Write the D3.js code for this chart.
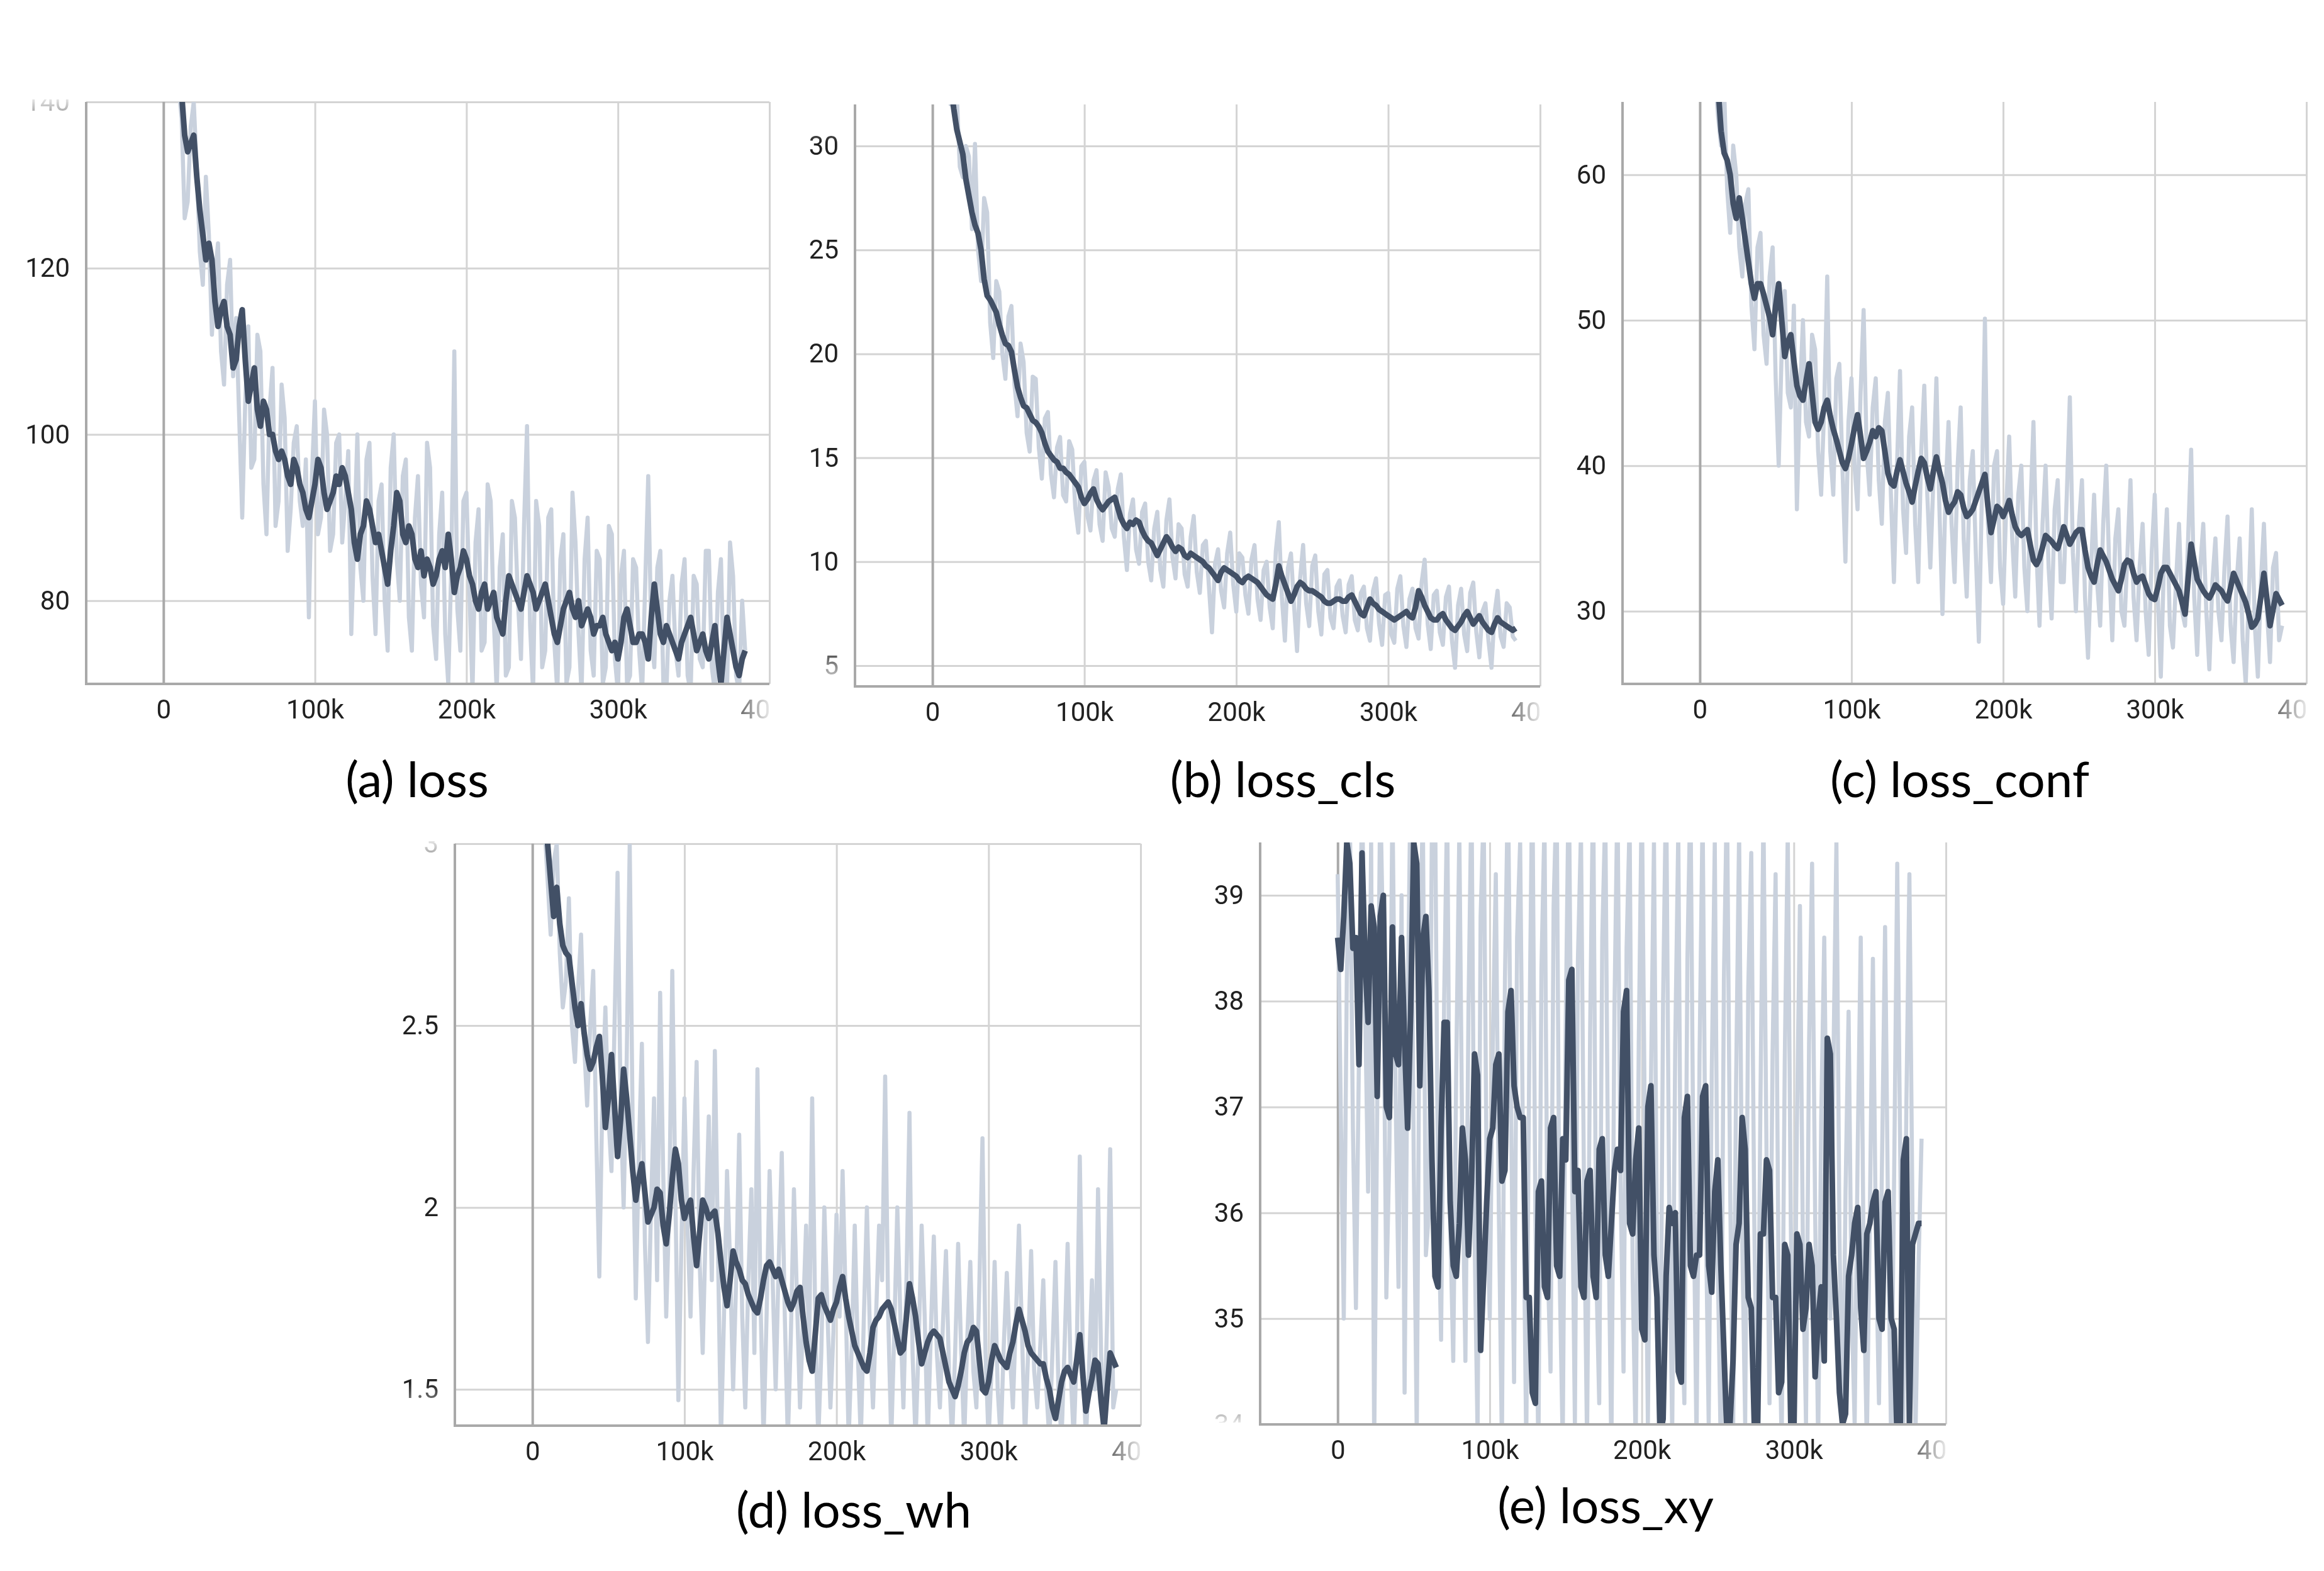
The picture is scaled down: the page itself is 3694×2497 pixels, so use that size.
<!DOCTYPE html>
<html><head><meta charset="utf-8">
<script src="https://cdn.jsdelivr.net/npm/d3@7"></script>
<style>
html,body{margin:0;padding:0;background:#fff;}
svg{display:block;}
</style></head><body>
<svg id="chart" width="3694" height="2497"></svg>
<script>
// training step (thousands)
const steps = [0,2,4,6,8,10,12,14,16,18,
20,22,24,26,28,30,32,34,36,38,
40,42,44,46,48,50,52,54,56,58,
60,62,64,66,68,70,72,74,76,78,
80,82,84,86,88,90,92,94,96,98,
100,102,104,106,108,110,112,114,116,118,
120,122,124,126,128,130,132,134,136,138,
140,142,144,146,148,150,152,154,156,158,
160,162,164,166,168,170,172,174,176,178,
180,182,184,186,188,190,192,194,196,198,
200,202,204,206,208,210,212,214,216,218,
220,222,224,226,228,230,232,234,236,238,
240,242,244,246,248,250,252,254,256,258,
260,262,264,266,268,270,272,274,276,278,
280,282,284,286,288,290,292,294,296,298,
300,302,304,306,308,310,312,314,316,318,
320,322,324,326,328,330,332,334,336,338,
340,342,344,346,348,350,352,354,356,358,
360,362,364,366,368,370,372,374,376,378,
380,382,384];

// (a) loss
const lossSmooth = [175,168,160,154,148,144,141,136,134,135,
136,131,127,124,121,123,121,116,113,115,
116,113,112,108,109,113,115,109,104,106,
108,103,101,104,103,100,100,98,97,98,
97,95,94,97,96,94,93,91,90,92,
94,97,96,93,91,92,93,95,94,96,
95,93,91,87,85,88,89,92,91,89,
87,88,86,84,82,86,89,93,92,88,
87,89,88,85,84,86,83,85,84,82,
83,85,86,84,88,85,81,83,84,86,
85,83,82,80,79,81,82,79,80,81,
78,77,76,80,83,82,81,80,79,81,
83,82,81,79,80,81,82,80,78,76,
75,77,79,80,81,79,78,80,77,78,
79,78,76,77,77,78,76,75,74,75,
73,75,78,79,77,75,75,76,76,75,
73,78,82,79,76,75,77,76,75,74,
73,75,76,77,78,76,74,75,76,74,
73,75,77,73,70,74,78,76,74,72,
71,73,74];
const lossRaw = [180,172,165,150,146,142,138,126,128,137,
140,132,122,118,131,124,112,119,123,110,
106,118,121,107,114,102,90,104,113,96,
97,112,110,94,88,103,108,89,92,106,
102,86,91,99,101,92,89,97,78,95,
104,88,90,103,100,86,88,99,100,87,
92,98,76,88,100,84,80,97,99,83,
76,92,94,80,74,96,100,85,80,95,
97,78,74,90,95,82,78,99,96,77,
73,88,93,76,70,84,110,79,74,92,
93,81,69,87,91,74,75,94,92,78,
69,84,88,71,72,92,90,80,73,89,
101,77,69,92,89,72,74,90,91,75,
69,85,88,70,72,93,87,76,69,85,
90,74,71,86,85,70,72,89,88,73,
69,83,86,70,71,85,84,74,69,82,
95,76,72,84,86,70,69,80,83,74,
71,82,85,71,69,83,82,73,72,86,
86,72,69,81,85,70,69,87,83,71,
69,80,74];

// (b) loss_cls
const clsSmooth = [45,42,40,38,36,34.5,33,31.8,30.8,30.2,
29.6,28.4,27.6,26.8,26.2,25.8,25,23.6,22.8,22.6,
22.3,22.0,21.4,20.9,20.5,20.4,20.1,19.2,18.4,17.9,
17.5,17.4,17.1,16.8,16.7,16.5,16.2,15.7,15.3,15.1,
14.9,14.8,14.5,14.5,14.3,14.2,14.0,13.8,13.6,13.1,
12.8,13.0,13.3,13.5,13.0,12.7,12.5,12.7,12.9,13.0,
13.1,12.6,12.1,11.8,11.6,11.9,11.8,12.0,11.9,11.5,
11.2,11.0,10.9,10.6,10.3,10.6,10.9,11.2,11.0,10.7,
10.5,10.7,10.6,10.3,10.2,10.4,10.3,10.2,10.1,10.0,
9.8,9.7,9.5,9.3,9.1,9.5,9.7,9.6,9.5,9.4,
9.3,9.1,9.0,9.2,9.3,9.2,9.1,9.0,8.8,8.6,
8.4,8.3,8.2,8.9,9.8,9.3,8.9,8.5,8.1,8.4,
8.8,9.0,8.9,8.7,8.6,8.6,8.5,8.4,8.3,8.1,
8.0,8.0,8.1,8.2,8.2,8.1,8.1,8.3,8.4,8.1,
7.8,7.5,7.4,7.8,8.2,8.0,7.9,7.7,7.6,7.5,
7.4,7.3,7.2,7.3,7.4,7.5,7.6,7.4,7.3,7.8,
8.6,8.3,7.9,7.6,7.3,7.2,7.2,7.4,7.5,7.2,
7.0,6.8,6.7,6.9,7.1,7.4,7.6,7.3,7.0,7.2,
7.4,7.1,6.9,6.7,6.6,7.0,7.3,7.1,7.0,6.9,
6.8,6.7,6.8];
const clsRaw = [46,43,41,38,37,34,32,34,32.5,29,
28.5,30,29.5,26,30.1,25,23.5,27.5,26.8,21.5,
19.8,23.5,23.0,20,18.8,21.8,22.3,18.5,17.0,20.5,
19.6,16.2,15.3,18.9,18.8,15.5,14.0,16.9,17.2,14.2,
13.1,15.5,16.0,13.2,12.9,15.8,15.4,12.6,11.4,14.6,
14.8,12.2,11.5,13.9,14.4,11.8,11.0,14.3,13.6,11.6,
11.2,13.5,14.2,11.2,9.6,12.3,13.0,10.6,9.9,12.4,
12.8,10.0,9.1,11.6,12.4,9.6,8.8,12.0,13.0,10.2,
9.2,11.8,11.6,9.4,8.8,11.2,12.2,9.5,8.5,10.8,
11.0,8.8,6.6,9.9,10.6,8.6,7.8,10.4,11.4,8.9,
7.6,10.4,10.2,8.4,7.5,10.1,10.8,8.2,7.2,9.6,
10.0,7.8,6.8,10.5,11.9,8.3,6.2,9.7,10.4,7.9,
5.7,9.2,10.8,8.0,6.9,9.8,10.3,7.6,6.5,9.4,
9.6,7.3,6.8,8.8,9.1,7.4,6.6,8.9,9.3,7.2,
6.7,8.5,8.8,6.8,6.2,8.6,9.2,7.0,6.0,8.4,
8.5,6.5,6.1,8.7,9.3,6.9,5.9,8.2,8.7,6.8,
6.3,9.0,10.1,7.0,5.8,8.4,8.6,6.6,6.0,8.3,
8.8,6.2,4.9,7.9,8.7,6.5,5.7,8.5,9.0,6.6,
5.4,7.6,8.0,6.2,4.9,7.5,8.6,6.4,5.9,8.0,
7.8,6.4,6.2];

// (c) loss_conf
const confSmooth = [80,77,74,71,69,67,66,63,61.5,61,
60,58,57,58.4,57,55.5,54,52.5,51.5,52.5,
52.5,51.8,51,50.2,49,51,52.5,50,47.5,48.5,
49,47.2,45.5,44.8,44.5,45.8,47,45,43,42.5,
43,44,44.5,43.4,42.5,41.8,41,40.2,39.8,40.5,
41.5,42.6,43.5,42,40.5,41,41.6,42.4,42,42.6,
42.4,41,39.5,38.8,38.6,39.6,40.4,39.6,38.8,38.2,
37.5,38.6,39.6,40.5,40.2,39.2,38.4,39.6,40.6,39.6,
38.8,37.6,36.8,37.2,37.5,38.2,38,37.1,36.5,36.7,
37,37.6,38.2,38.8,39.4,37.2,35.4,36.3,37.2,37,
36.5,37,37.6,36.6,35.8,35.4,35.2,35.4,35.6,34.5,
33.5,33.2,33.6,34.4,35.2,35,34.8,34.5,34.3,35,
35.8,35.2,34.6,35,35.4,35.6,35.6,34.2,33,32.4,
32,33.2,34.2,33.8,33.4,32.8,32.2,31.8,31.4,32.2,
33.2,33.5,33.4,32.6,32,32.3,32.4,31.8,31.2,30.9,
30.8,31.6,32.6,33,33,32.6,32.2,31.8,31.4,30.6,
29.8,32.2,34.6,33.4,32.2,31.8,31.4,31.1,30.9,31.3,
31.8,31.6,31.4,31.0,30.7,31.6,32.6,32.1,31.6,31.1,
30.6,29.8,28.9,29.1,29.5,31,32.6,30.8,29,30.1,
31.2,30.8,30.4];
const confRaw = [82,79,76,72,70,67,64,62,66,59,
56,62,60,55,53,58,59,51,48,55,
56,49,47,53,55,46,40,48,52,45,
44,51,37,45,50,43,42,49,48,41,
38,44,53,41,38,46,47,40,33.4,43,
46,40,37,45,50.7,41,38,44,46,39,
36,43,45,38,32,40,46.5,37,34,42,
44,36,32,41,45.5,38,33,39,46,37,
29.8,38,43,36,32,40,44,35,31,39,
41,34,27.9,38,50.1,36,32,40,41,33,
30.5,37,42,35,31,38,40,33,30,37,
43,34,29,36,40,33,29.5,37,39,32,
32,38,44.7,34,30,36,39,31,26.8,33,
38,32,29,36,40,33,28,35,37,30,
29,34,39,31,28,33,36,30,27,34,
38,31,25.5,33,37,29,27.5,32,36,30,
29,35,41.1,31,27,33,36,30,26,32,
35,30,28,33,36.5,29,26.5,32,35,28,
25,31,37,29,25.5,32,36,30,26.5,33,
34,28,29];

// (d) loss_wh
const whSmooth = [3.6,3.48,3.35,3.2,3.1,3.0,2.9,2.8,2.88,2.78,
2.72,2.7,2.69,2.62,2.55,2.5,2.56,2.48,2.42,2.38,
2.4,2.44,2.47,2.36,2.22,2.3,2.42,2.28,2.14,2.24,
2.38,2.3,2.2,2.1,2.02,2.08,2.12,2.04,1.96,1.98,
2.0,2.05,2.04,1.95,1.9,1.98,2.08,2.16,2.12,2.02,
1.97,2.0,2.02,1.92,1.84,1.93,2.02,2.0,1.97,1.98,
1.99,1.93,1.85,1.78,1.73,1.8,1.88,1.85,1.83,1.8,
1.79,1.76,1.74,1.72,1.71,1.75,1.8,1.84,1.85,1.83,
1.81,1.83,1.8,1.77,1.74,1.72,1.74,1.77,1.78,1.7,
1.63,1.58,1.55,1.65,1.75,1.76,1.73,1.71,1.69,1.72,
1.74,1.78,1.81,1.75,1.7,1.66,1.62,1.6,1.58,1.56,
1.55,1.6,1.67,1.69,1.7,1.72,1.73,1.74,1.72,1.68,
1.64,1.6,1.61,1.7,1.79,1.75,1.7,1.63,1.57,1.6,
1.63,1.65,1.66,1.65,1.64,1.6,1.56,1.52,1.5,1.48,
1.51,1.55,1.6,1.63,1.64,1.67,1.66,1.58,1.5,1.49,
1.52,1.58,1.62,1.6,1.58,1.57,1.56,1.6,1.63,1.68,
1.72,1.69,1.66,1.62,1.6,1.59,1.58,1.57,1.57,1.53,
1.5,1.45,1.42,1.47,1.52,1.55,1.56,1.54,1.52,1.58,
1.65,1.54,1.44,1.49,1.53,1.58,1.57,1.47,1.39,1.5,
1.6,1.58,1.56];
const whRaw = [3.7,3.55,3.4,3.2,3.05,2.9,2.75,2.95,3.0,2.7,
2.55,2.62,2.85,2.5,2.4,2.6,2.75,2.45,2.28,2.5,
2.65,2.2,1.81,2.3,2.55,2.25,2.1,2.5,2.92,2.3,
2.0,2.4,3.0,2.2,1.75,2.15,2.45,1.9,1.63,2.0,
2.3,1.8,2.59,2.1,1.7,2.0,2.65,2.05,1.47,1.9,
2.3,1.95,1.7,2.1,2.4,1.85,1.6,1.95,2.25,1.8,
2.43,1.9,1.36,1.7,2.1,1.85,1.5,1.8,2.2,1.7,
1.45,1.8,2.05,1.6,2.38,1.75,1.36,1.7,2.1,1.8,
1.5,1.85,2.15,1.7,1.36,1.65,2.05,1.75,1.45,1.7,
1.95,1.6,2.3,1.7,1.36,1.6,2.0,1.72,1.45,1.66,
1.98,1.7,2.1,1.75,1.36,1.62,1.95,1.6,1.36,1.7,
2.0,1.65,1.45,1.7,1.95,1.8,2.36,1.7,1.36,1.66,
2.0,1.7,1.45,1.8,2.26,1.6,1.36,1.62,1.95,1.7,
1.36,1.65,1.92,1.6,1.45,1.68,1.88,1.55,1.36,1.6,
1.9,1.6,1.36,1.64,1.85,1.55,1.45,1.8,2.19,1.6,
1.36,1.56,1.85,1.5,1.36,1.62,1.82,1.6,1.45,1.7,
1.95,1.65,1.36,1.6,1.88,1.55,1.45,1.62,1.8,1.5,
1.36,1.6,1.85,1.5,1.36,1.62,1.9,1.55,1.36,1.6,
2.14,1.6,1.36,1.55,1.8,1.5,2.05,1.6,1.36,1.7,
2.16,1.45,1.5];

// (e) loss_xy
const xySmooth = [38.6,38.3,38.8,39.5,39.3,38.5,38.6,37.4,39.4,38.4,
37.8,38.9,38.7,37.1,38.8,39.0,37.0,36.9,38.7,37.5,
37.4,38.6,37.6,36.8,37.9,39.5,39.3,37.2,38.6,38.8,
38.1,36.5,35.4,35.3,36.8,37.8,37.8,36.1,35.5,35.4,
35.9,36.8,36.5,35.6,36.3,37.5,37.3,34.7,35.4,36.1,
36.7,36.8,37.4,37.5,36.3,36.4,37.9,38.1,37.2,37.0,
36.9,36.9,35.2,35.2,34.3,34.2,36.2,36.3,35.3,35.2,
36.8,36.9,35.5,35.4,36.7,36.5,38.2,38.3,36.2,36.4,
35.3,35.2,36.3,36.4,35.4,35.2,36.6,36.7,35.6,35.4,
35.9,36.4,36.6,36.4,37.9,38.1,35.9,35.8,36.5,36.8,
34.9,34.8,37.0,37.2,35.6,35.2,33.9,34.05,35.4,36.05,
35.9,36.0,34.5,34.4,36.9,37.1,35.5,35.4,35.6,35.6,
37.1,37.2,35.5,35.25,36.2,36.5,35.5,34.7,33.9,34.0,
34.6,35.7,35.9,36.9,36.6,35.2,35.1,34.0,33.8,35.8,
35.8,36.5,36.4,35.2,35.2,34.3,34.4,35.7,35.6,34.0,
33.9,35.8,35.7,34.9,35.1,35.7,35.5,34.45,35.0,35.3,
34.6,37.65,37.5,35.6,35.0,34.3,34.0,34.1,35.4,35.6,
35.9,36.05,35.1,34.7,35.8,35.9,36.1,36.2,35.0,34.9,
36.1,36.2,35.0,34.9,33.8,34.0,36.5,36.7,34.0,35.7,
35.8,35.9,35.9];
const xyRaw = [39.2,37.0,35.0,38.2,39.8,36.8,35.1,37.5,40.0,38.0,
36.2,39.5,33.8,37.0,40.0,38.4,35.2,36.6,39.9,37.2,
35.3,39.0,34.3,37.8,40.2,36.5,33.9,38.5,39.8,35.6,
36.0,39.7,40.0,36.2,34.8,38.0,39.9,35.9,34.6,37.4,
39.6,36.5,34.6,37.9,40.0,35.8,33.9,38.8,39.8,36.3,
35.0,37.6,39.2,36.0,33.8,38.2,40.1,37.0,34.4,38.6,
39.5,36.4,33.8,37.5,40.2,36.0,33.7,38.3,39.7,35.6,
34.5,38.9,40.0,35.4,33.8,37.8,40.2,36.6,34.0,38.4,
39.6,36.2,33.8,37.7,40.1,35.5,34.2,38.6,39.8,36.0,
33.7,37.9,40.0,36.3,34.5,38.5,39.7,35.4,33.8,37.6,
40.0,36.8,34.0,37.2,39.5,35.6,33.7,38.0,40.1,36.1,
33.9,37.6,39.6,35.2,34.2,38.4,40.0,36.3,33.8,37.5,
39.8,36.1,34.0,37.3,39.5,35.5,33.7,38.2,40.0,36.4,
33.8,37.2,39.6,35.8,34.0,38.1,39.4,35.9,33.7,37.0,
39.8,36.6,34.2,37.5,39.2,35.3,33.8,37.4,39.6,35.9,
33.7,36.8,38.9,35.6,34.0,37.6,39.3,36.0,33.8,36.9,
38.6,36.0,35.0,37.4,39.5,35.8,33.7,36.2,37.9,35.1,
34.0,36.6,38.6,35.4,33.8,36.0,38.4,35.7,34.2,36.5,
38.7,35.9,33.8,36.4,39.3,36.5,34.0,37.0,39.2,36.0,
33.9,35.5,36.7];

// ticks
const xTickValues = [0,100,200,300,400];
const xTickLabels = ["0","100k","200k","300k","400k"];
const lossTicks = [80,100,120,140];
const clsTicks = [5,10,15,20,25,30];
const confTicks = [30,40,50,60];
const whTicks = [1.5,2,2.5,3];
const xyTicks = [34,35,36,37,38,39];
const captions = ["(a) loss","(b) loss_cls","(c) loss_conf","(d) loss_wh","(e) loss_xy"];

const series = [
  {raw: lossRaw, smooth: lossSmooth, ticks: lossTicks, domain: [70,140]},
  {raw: clsRaw, smooth: clsSmooth, ticks: clsTicks, domain: [4,32]},
  {raw: confRaw, smooth: confSmooth, ticks: confTicks, domain: [25,65]},
  {raw: whRaw, smooth: whSmooth, ticks: whTicks, domain: [1.4,3]},
  {raw: xyRaw, smooth: xySmooth, ticks: xyTicks, domain: [34,39.5]}
];

// layout (pixels)
const layout = [
  {l:137,  r:1223, t:162,  b:1087, capX:663,  capY:1267},
  {l:1359, r:2448, t:166,  b:1091, capX:2039, capY:1267},
  {l:2579, r:3666, t:162,  b:1087, capX:3115, capY:1267},
  {l:723,  r:1813, t:1341, b:2266, capX:1357, capY:2428},
  {l:2003, r:3093, t:1339, b:2264, capX:2552, capY:2421}
];
const xDomain = [-51, 400];
const TXT = "#212121", GRID = "#d4d4d4", AXIS = "#a9a9a9";
const RAW = "#c9d1dd", SMOOTH = "#425066";

const svg = d3.select("#chart");
const defs = svg.append("defs");

series.forEach((s, i) => {
  const L = layout[i];
  const x = d3.scaleLinear().domain(xDomain).range([L.l, L.r]);
  const y = d3.scaleLinear().domain(s.domain).range([L.b, L.t]);
  const g = svg.append("g");

  defs.append("clipPath").attr("id", "clip" + i).append("rect")
    .attr("x", L.l).attr("y", L.t).attr("width", L.r - L.l).attr("height", L.b - L.t);

  // y label fade mask
  const y0 = L.t - 4, y1 = L.b - 3, H = y1 - y0, f = 65 / H;
  const gy = defs.append("linearGradient").attr("id", "gy" + i).attr("gradientUnits", "userSpaceOnUse")
    .attr("x1", 0).attr("x2", 0).attr("y1", y0).attr("y2", y1);
  [[0, 0.12], [f, 1], [1 - f, 1], [1, 0.12]].forEach(([o, a]) =>
    gy.append("stop").attr("offset", o).attr("stop-color", "#fff").attr("stop-opacity", a));
  defs.append("mask").attr("id", "my" + i).attr("maskUnits", "userSpaceOnUse")
    .attr("x", 0).attr("y", y0).attr("width", L.l).attr("height", H)
    .append("rect").attr("x", 0).attr("y", y0).attr("width", L.l).attr("height", H)
    .attr("fill", `url(#gy${i})`);

  // x label fade mask
  const gx = defs.append("linearGradient").attr("id", "gx" + i).attr("gradientUnits", "userSpaceOnUse")
    .attr("x1", L.r - 75).attr("x2", L.r).attr("y1", 0).attr("y2", 0);
  [[0, 1], [1, 0.1]].forEach(([o, a]) =>
    gx.append("stop").attr("offset", o).attr("stop-color", "#fff").attr("stop-opacity", a));
  defs.append("mask").attr("id", "mx" + i).attr("maskUnits", "userSpaceOnUse")
    .attr("x", L.l - 100).attr("y", L.b).attr("width", L.r - L.l + 100).attr("height", 120)
    .append("rect").attr("x", L.l - 100).attr("y", L.b).attr("width", L.r - L.l + 100).attr("height", 120)
    .attr("fill", `url(#gx${i})`);

  // gridlines
  const gridY = g.append("g").attr("transform", `translate(${L.l},0)`)
    .call(d3.axisLeft(y).tickValues(s.ticks).tickSize(-(L.r - L.l)).tickFormat(""));
  gridY.select(".domain").remove();
  gridY.selectAll("line").attr("stroke", GRID).attr("stroke-width", 3);

  const gridX = g.append("g").attr("transform", `translate(0,${L.b})`)
    .call(d3.axisBottom(x).tickValues(xTickValues).tickSize(-(L.b - L.t)).tickFormat(""));
  gridX.select(".domain").remove();
  gridX.selectAll("line")
    .attr("stroke", d => d === 0 ? AXIS : GRID)
    .attr("stroke-width", d => d === 0 ? 4 : 3);

  // series
  const plot = g.append("g").attr("clip-path", `url(#clip${i})`);
  const line = d3.line().x((d, j) => x(steps[j])).y(d => y(d));
  plot.append("path").datum(s.raw).attr("d", line)
    .attr("fill", "none").attr("stroke", RAW).attr("stroke-width", 6.5).attr("stroke-linejoin", "round");
  plot.append("path").datum(s.smooth).attr("d", line)
    .attr("fill", "none").attr("stroke", SMOOTH).attr("stroke-width", 9).attr("stroke-linejoin", "round");

  // axis lines
  g.append("line").attr("x1", L.l).attr("x2", L.l).attr("y1", L.t).attr("y2", L.b + 2)
    .attr("stroke", AXIS).attr("stroke-width", 4);
  g.append("line").attr("x1", L.l - 2).attr("x2", L.r).attr("y1", L.b).attr("y2", L.b)
    .attr("stroke", AXIS).attr("stroke-width", 4);

  // y labels
  const yl = g.append("g").attr("mask", `url(#my${i})`).append("g")
    .attr("transform", `translate(${L.l},0)`)
    .call(d3.axisLeft(y).tickValues(s.ticks).tickSize(0).tickPadding(26).tickFormat(d => String(d)));
  yl.select(".domain").remove();
  yl.attr("font-family", "Roboto").attr("font-size", 42);
  yl.selectAll("text").attr("fill", TXT);

  // x labels
  const xl = g.append("g").attr("mask", `url(#mx${i})`).append("g")
    .attr("transform", `translate(0,${L.b})`)
    .call(d3.axisBottom(x).tickValues(xTickValues).tickSize(0).tickPadding(25)
      .tickFormat((d, j) => xTickLabels[j]));
  xl.select(".domain").remove();
  xl.attr("font-family", "Roboto").attr("font-size", 42);
  xl.selectAll("text").attr("fill", TXT);
  // the label at the right edge is cut by the plot edge: keep only its visible part
  xl.selectAll("text").filter(d => d === xTickValues[xTickValues.length - 1]).each(function () {
    const w = this.getBBox().width;
    d3.select(this).text(this.textContent.slice(0, 2)).attr("text-anchor", "start").attr("x", -w / 2);
  });

  // caption
  svg.append("text").attr("x", L.capX).attr("y", L.capY)
    .attr("text-anchor", "middle").attr("font-family", "Lato").attr("font-size", 78)
    .attr("fill", "#000").text(captions[i]);
});
</script>
</body></html>
